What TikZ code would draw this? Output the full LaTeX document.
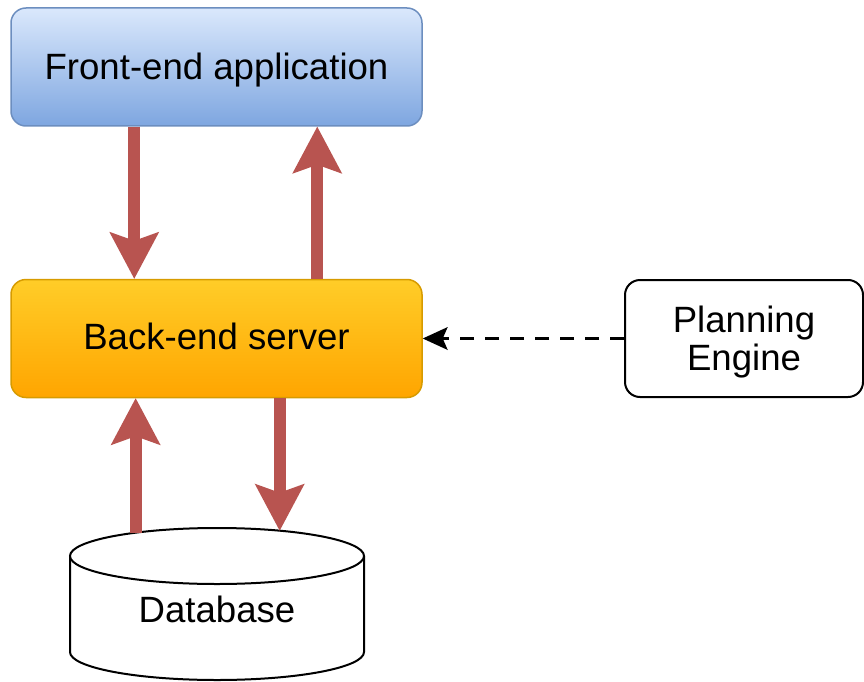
\documentclass[tikz,border=0pt]{standalone}
\usepackage{fontspec}
\setmainfont{Liberation Sans}
\usetikzlibrary{arrows.meta,shapes.geometric}

\definecolor{feTop}{HTML}{DAE8FC}
\definecolor{feBot}{HTML}{7EA6E0}
\definecolor{feLine}{HTML}{6C8EBF}
\definecolor{beTop}{HTML}{FFCD28}
\definecolor{beBot}{HTML}{FFA500}
\definecolor{beLine}{HTML}{D79B00}
\definecolor{flowRed}{HTML}{B85450}

\tikzset{
  box/.style={rectangle, rounded corners=15pt, inner sep=0pt,
    minimum width=411pt, minimum height=118pt, line width=1.5pt,
    font=\fontsize{36.6}{40}\selectfont},
  frontbox/.style={box, draw=feLine, top color=feTop, bottom color=feBot,
    text height=26pt, text depth=0pt},
  backbox/.style={box, draw=beLine, top color=beTop, bottom color=beBot,
    text height=21pt, text depth=0pt},
  enginebox/.style={box, draw=black, fill=white, minimum width=238pt,
    line width=2pt, align=center, text depth=0pt},
  flow/.style={line width=12pt, draw=flowRed,
    -{Stealth[length=47pt, width=50pt, inset=9pt, line width=0pt]}},
  hint/.style={line width=3pt, draw=black, dash pattern=on 14pt off 11pt,
    -{Stealth[length=25pt, width=23pt, inset=5pt, line width=0pt]}},
  dblabel/.style={font=\fontsize{36.6}{40}\selectfont, text height=26pt,
    text depth=0pt, inner sep=0pt}
}

\begin{document}
\begin{tikzpicture}[x=1pt, y=1pt]
  \useasboundingbox (0,0) rectangle (864,-682);

  % application layers
  \node[frontbox] (fe) at (216.5,-67) {Front-end application};
  \node[backbox] (be) at (216.5,-338.5) {Back-end server};
  \node[enginebox, minimum height=117pt] (pe) at (744,-338.5)
    {Planning\\[-2pt]Engine};

  % database cylinder
  \path[draw, fill=white, line width=2pt]
    (70,-556) -- (70,-652)
    arc[start angle=180, end angle=360, x radius=147pt, y radius=28pt]
    -- (364,-556);
  \node[ellipse, draw, fill=white, line width=2pt, inner sep=0pt, outer sep=0pt,
    minimum width=294pt, minimum height=56pt] (dbtop) at (217,-556) {};
  \node[dblabel] (db) at (217,-609) {Database};

  % request / response flows
  \draw[flow] ([xshift=124pt]fe.south west) -- ([xshift=124pt]be.north west);
  \draw[flow] ([xshift=307pt]be.north west) -- ([xshift=307pt]fe.south west);
  \draw[flow] (dbtop.164.45) -- (dbtop.164.45 |- be.south);
  \draw[flow] (dbtop.22.69 |- be.south) -- (dbtop.22.69);

  % planning engine hint
  \draw[hint] (pe.west) -- (be.east);
\end{tikzpicture}
\end{document}
